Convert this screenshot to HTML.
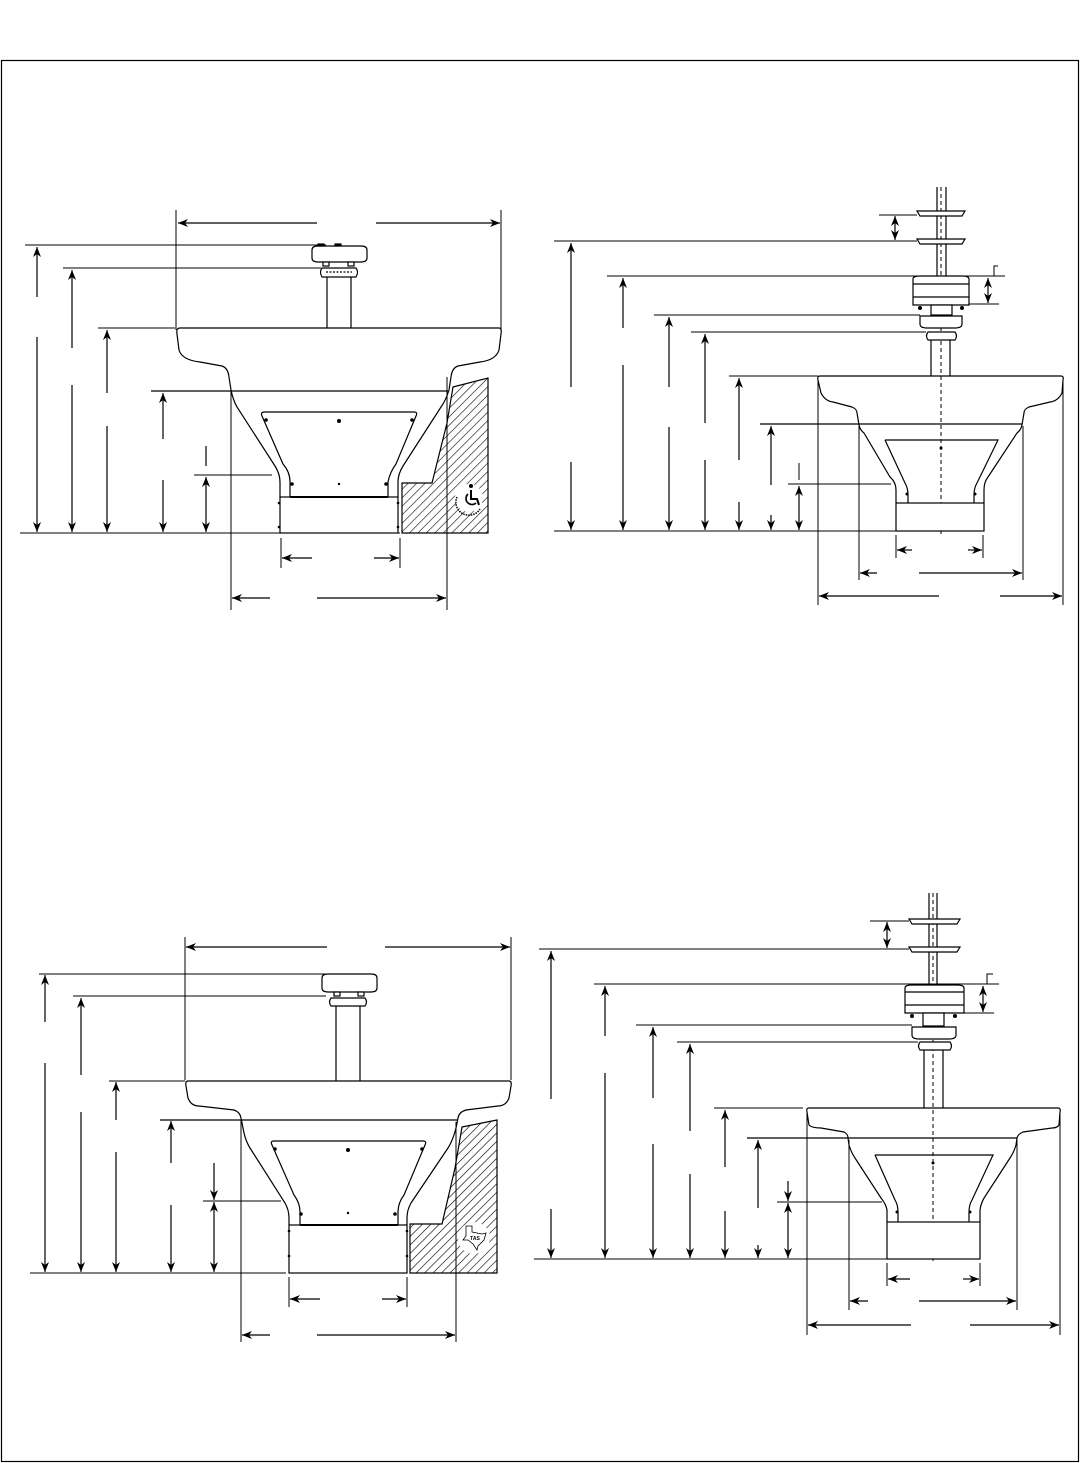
<!DOCTYPE html>
<html><head><meta charset="utf-8"><style>
html,body{margin:0;padding:0;background:#fff;}
svg{display:block;}
</style></head><body>
<svg width="1080" height="1463" viewBox="0 0 1080 1463" xmlns="http://www.w3.org/2000/svg">
<defs>
<marker id="a" markerUnits="userSpaceOnUse" markerWidth="10" markerHeight="8" viewBox="0 0 10 8" refX="10" refY="4" orient="auto">
<path d="M0,0 L10,4 L0,8 L3,4 z" fill="#000"/></marker>
<pattern id="h" patternUnits="userSpaceOnUse" width="6" height="6" patternTransform="rotate(45)">
<rect width="6" height="6" fill="#fff"/><line x1="0" y1="0" x2="0" y2="6" stroke="#000" stroke-width="1.2"/></pattern>
</defs>
<rect x="1.5" y="60.5" width="1077" height="1401" fill="none" stroke="#000" stroke-width="1.2"/>

<g fill="none" stroke="#000" stroke-width="1.2">
<!-- ============ TOP LEFT ============ -->
<!-- wall -->
<path d="M453,387 L488,378 L488,533 L402,533 L402,483 L432,483 L447,423 Z" fill="url(#h)" stroke="#000"/>
<circle cx="469" cy="498" r="14" fill="#fff" stroke="none"/>
<!-- dispenser -->
<path d="M312,250 Q312,246 318,246 L361,246 Q367,246 367,250 L367,258 Q367,262 361,262 L318,262 Q312,262 312,258 Z" fill="#fff"/>
<rect x="318" y="244" width="6" height="2" fill="#000"/><rect x="335" y="244" width="6" height="2" fill="#000"/>
<rect x="323" y="262" width="6" height="4" fill="#fff"/><rect x="348" y="262" width="6" height="4" fill="#fff"/>
<path d="M322,268 L356,268 Q359,272 356,277 L322,277 Q319,272 322,268 Z" fill="#fff"/>
<line x1="326" y1="272" x2="352" y2="272" stroke-dasharray="2,1.5"/>
<line x1="327" y1="277" x2="327" y2="328"/><line x1="351" y1="277" x2="351" y2="328"/>
<!-- basin -->
<path d="M180,328 L499,328 Q502,328 501,334 L499,350 Q496,360 480,362 L458,366 Q452,368 451,377 L449,390 Q446,400 441,407 L403,466 Q398,474 398,482 L398,497"/>
<path d="M180,328 Q176,328 177,334 L179,350 Q182,360 200,362 L222,366 Q228,368 229,377 L231,390 Q233,400 237,407 L275,466 Q280,474 280,482 L280,497"/>
<line x1="151" y1="391" x2="448" y2="391"/>
<path d="M265,412 L414,412 Q418,412 416,416 L396,464 Q390,472 388,482 L388,497"/>
<path d="M265,412 Q260,412 262,416 L283,464 Q290,472 290,482 L290,497"/>
<rect x="280" y="497" width="118" height="36" fill="#fff"/>
<line x1="290" y1="497" x2="388" y2="497" stroke-width="2"/>
<g fill="#000" stroke="none">
<circle cx="339" cy="421" r="2"/><circle cx="339" cy="484" r="1.2"/>
<circle cx="266" cy="420" r="1.8"/><circle cx="412" cy="420" r="1.8"/>
<circle cx="292" cy="484" r="1.8"/><circle cx="386" cy="484" r="1.8"/>
<circle cx="279" cy="503" r="1.3"/><circle cx="279" cy="527" r="1.3"/><circle cx="398" cy="503" r="1.3"/><circle cx="398" cy="527" r="1.3"/>
</g>
<!-- wheelchair -->
<g stroke="#000">
<circle cx="471" cy="486" r="2" fill="#000" stroke="none"/>
<path d="M471,490 L471,499 L477,499 L479,505" stroke-width="2"/>
<path d="M468,494 A6,6 0 1 0 476,503" stroke-width="1.6"/>
<path d="M457,497 A13,13 0 0 0 480,509" stroke-width="1.5" stroke-dasharray="1.5,1"/>
</g>
<!-- ext & leaders -->
<g stroke-width="1">
<line x1="176" y1="210" x2="176" y2="330"/><line x1="501" y1="210" x2="501" y2="330"/>
<line x1="25" y1="245" x2="326" y2="245"/>
<line x1="63" y1="268" x2="321" y2="268"/>
<line x1="98" y1="328" x2="175" y2="328"/>
<line x1="194" y1="475" x2="272" y2="475"/>
<line x1="20" y1="533" x2="400" y2="533"/>
<line x1="231" y1="391" x2="231" y2="610"/><line x1="447" y1="377" x2="447" y2="610"/>
<line x1="281" y1="538" x2="281" y2="568"/><line x1="400" y1="538" x2="400" y2="568"/>
</g>
<g marker-end="url(#a)">
<line x1="317" y1="223" x2="178" y2="223"/><line x1="376" y1="223" x2="500" y2="223"/>
<line x1="37" y1="297" x2="37" y2="247"/><line x1="37" y1="337" x2="37" y2="532"/>
<line x1="72" y1="348" x2="72" y2="270"/><line x1="72" y1="385" x2="72" y2="532"/>
<line x1="107" y1="393" x2="107" y2="330"/><line x1="107" y1="426" x2="107" y2="532"/>
<line x1="163" y1="439" x2="163" y2="393"/><line x1="163" y1="480" x2="163" y2="532"/>
<line x1="206" y1="505" x2="206" y2="477"/><line x1="206" y1="505" x2="206" y2="532"/>
<line x1="312" y1="558" x2="282" y2="558"/><line x1="374" y1="558" x2="399" y2="558"/>
<line x1="270" y1="598" x2="232" y2="598"/><line x1="317" y1="598" x2="446" y2="598"/>
</g>
<line x1="206" y1="446" x2="206" y2="466"/>

<!-- ============ TOP RIGHT ============ -->
<line x1="941" y1="187" x2="941" y2="535" stroke-dasharray="4,3" stroke-width="1"/>
<line x1="937" y1="187" x2="937" y2="277"/><line x1="946" y1="187" x2="946" y2="277"/>
<path d="M917,211 L965,211 L962,216 L920,216 Z" fill="#fff"/><path d="M917,239 L965,239 L962,244 L920,244 Z" fill="#fff"/>
<path d="M913,279 Q913,276 920,276 L962,276 Q969,276 969,279 L969,305 L913,305 Z" fill="#fff"/>
<line x1="913" y1="284" x2="969" y2="284"/><line x1="913" y1="297" x2="969" y2="297"/>
<g fill="#000" stroke="none"><circle cx="920" cy="308" r="2"/><circle cx="941" cy="308" r="2"/><circle cx="962" cy="308" r="2"/></g>
<rect x="931" y="305" width="21" height="10" fill="#fff"/>
<path d="M920,316 L962,316 L962,324 Q962,328 955,328 L927,328 Q920,328 920,324 Z" fill="#fff"/>
<path d="M928,332 L955,332 Q958,336 955,340 L928,340 Q925,336 928,332 Z" fill="#fff"/>
<line x1="931" y1="340" x2="931" y2="376"/><line x1="950" y1="340" x2="950" y2="376"/>
<path d="M820,376 L1061,376 Q1064,376 1063,380 L1062,393 Q1058,401 1050,402 L1029,407 Q1024,409 1024,413 L1022,425 Q1021,430 1017,433 L988,477 Q984,482 984,490 L984,503"/>
<path d="M820,376 Q817,376 818,380 L821,393 Q825,401 833,402 L852,407 Q857,409 857,413 L859,425 Q860,430 864,433 L890,477 Q896,482 896,490 L896,503"/>
<line x1="760" y1="424" x2="1022" y2="424"/>
<path d="M885,440 L998,440 L977,483 Q974,488 974,495 L974,503"/>
<path d="M885,440 L905,483 Q908,488 908,495 L908,503"/>
<rect x="896" y="503" width="88" height="28" fill="#fff"/>
<g fill="#000" stroke="none"><circle cx="941" cy="448" r="1.5"/><circle cx="907" cy="494" r="1.5"/><circle cx="975" cy="494" r="1.5"/></g>
<g stroke-width="1">
<line x1="879" y1="215" x2="917" y2="215"/>
<line x1="554" y1="241" x2="917" y2="241"/>
<line x1="607" y1="276" x2="1005" y2="276"/>
<polyline points="994,276 994,266 998,266"/>
<line x1="969" y1="304" x2="999" y2="304"/>
<line x1="654" y1="315" x2="920" y2="315"/>
<line x1="691" y1="332" x2="926" y2="332"/>
<line x1="729" y1="376" x2="818" y2="376"/>
<line x1="788" y1="484" x2="891" y2="484"/>
<line x1="554" y1="531" x2="896" y2="531"/>
<line x1="896" y1="535" x2="896" y2="558"/><line x1="983" y1="535" x2="983" y2="558"/>
<line x1="859" y1="426" x2="859" y2="580"/><line x1="1023" y1="426" x2="1023" y2="580"/>
<line x1="818" y1="380" x2="818" y2="605"/><line x1="1063" y1="380" x2="1063" y2="605"/>
<line x1="799" y1="463" x2="799" y2="480"/>
</g>
<g marker-end="url(#a)">
<line x1="895" y1="228" x2="895" y2="216"/><line x1="895" y1="228" x2="895" y2="240"/>
<line x1="988" y1="291" x2="988" y2="278"/><line x1="988" y1="291" x2="988" y2="303"/>
<line x1="571" y1="387" x2="571" y2="243"/><line x1="571" y1="462" x2="571" y2="530"/>
<line x1="623" y1="328" x2="623" y2="278"/><line x1="623" y1="365" x2="623" y2="530"/>
<line x1="669" y1="387" x2="669" y2="317"/><line x1="669" y1="427" x2="669" y2="530"/>
<line x1="705" y1="423" x2="705" y2="334"/><line x1="705" y1="460" x2="705" y2="530"/>
<line x1="739" y1="460" x2="739" y2="378"/><line x1="739" y1="502" x2="739" y2="530"/>
<line x1="771" y1="485" x2="771" y2="426"/><line x1="771" y1="515" x2="771" y2="530"/>
<line x1="799" y1="508" x2="799" y2="486"/><line x1="799" y1="508" x2="799" y2="530"/>
<line x1="912" y1="550" x2="897" y2="550"/><line x1="968" y1="550" x2="982" y2="550"/>
<line x1="877" y1="573" x2="860" y2="573"/><line x1="919" y1="573" x2="1022" y2="573"/>
<line x1="939" y1="596" x2="819" y2="596"/><line x1="1000" y1="596" x2="1062" y2="596"/>
</g>

<!-- ============ BOTTOM LEFT ============ -->
<path d="M462,1127 L497,1120 L497,1273 L410,1273 L410,1224 L442,1224 L455,1168 Z" fill="url(#h)" stroke="#000"/>
<circle cx="474" cy="1238" r="16" fill="#fff" stroke="none"/>
<path d="M466,1226 L472,1226 L472,1232 L482,1234 L486,1233 L484,1240 L478,1246 L477,1250 L473,1244 L468,1240 L463,1240 L466,1236 Z" stroke-width="0.8"/>
<text x="475" y="1240" font-family="Liberation Sans, sans-serif" font-size="5" font-weight="bold" text-anchor="middle" fill="#000" stroke="none">TAS</text>
<path d="M322,978 Q322,974 328,974 L371,974 Q377,974 377,978 L377,988 Q377,992 371,992 L328,992 Q322,992 322,988 Z" fill="#fff"/>
<rect x="334" y="992" width="6" height="4" fill="#fff"/><rect x="358" y="992" width="6" height="4" fill="#fff"/>
<path d="M331,998 L365,998 Q368,1002 365,1006 L331,1006 Q328,1002 331,998 Z" fill="#fff"/>
<line x1="336" y1="1006" x2="336" y2="1081"/><line x1="360" y1="1006" x2="360" y2="1081"/>
<path d="M188,1081 L509,1081 Q512,1081 511,1086 L509,1098 Q506,1106 498,1106 L466,1110 Q459,1112 458,1118 L456,1128 Q453,1140 448,1148 L411,1203 Q407,1210 407,1218 L407,1225"/>
<path d="M188,1081 Q185,1081 186,1086 L188,1098 Q191,1106 199,1106 L234,1110 Q240,1112 241,1118 L243,1128 Q245,1140 250,1148 L285,1203 Q289,1210 289,1218 L289,1225"/>
<line x1="160" y1="1120" x2="458" y2="1120"/>
<path d="M274,1141 L423,1141 Q427,1141 425,1145 L404,1195 Q398,1203 398,1212 L398,1225"/>
<path d="M274,1141 Q270,1141 272,1145 L294,1195 Q300,1203 300,1212 L300,1225"/>
<rect x="289" y="1225" width="118" height="48" fill="#fff"/>
<line x1="300" y1="1225" x2="398" y2="1225" stroke-width="2"/>
<g fill="#000" stroke="none">
<circle cx="348" cy="1150" r="2"/><circle cx="348" cy="1213" r="1.2"/>
<circle cx="275" cy="1149" r="1.8"/><circle cx="422" cy="1149" r="1.8"/>
<circle cx="301" cy="1214" r="1.8"/><circle cx="395" cy="1214" r="1.8"/>
<circle cx="289" cy="1231" r="1.3"/><circle cx="289" cy="1256" r="1.3"/><circle cx="407" cy="1231" r="1.3"/><circle cx="407" cy="1256" r="1.3"/>
</g>
<g stroke-width="1">
<line x1="185" y1="937" x2="185" y2="1080"/><line x1="511" y1="937" x2="511" y2="1080"/>
<line x1="39" y1="974" x2="335" y2="974"/>
<line x1="73" y1="996" x2="326" y2="996"/>
<line x1="109" y1="1081" x2="185" y2="1081"/>
<line x1="203" y1="1201" x2="281" y2="1201"/>
<line x1="30" y1="1273" x2="286" y2="1273"/>
<line x1="241" y1="1120" x2="241" y2="1342"/><line x1="456" y1="1122" x2="456" y2="1342"/>
<line x1="289" y1="1277" x2="289" y2="1307"/><line x1="407" y1="1277" x2="407" y2="1307"/>
</g>
<g marker-end="url(#a)">
<line x1="327" y1="947" x2="186" y2="947"/><line x1="385" y1="947" x2="510" y2="947"/>
<line x1="45" y1="1022" x2="45" y2="975"/><line x1="45" y1="1063" x2="45" y2="1272"/>
<line x1="81" y1="1075" x2="81" y2="998"/><line x1="81" y1="1112" x2="81" y2="1272"/>
<line x1="116" y1="1120" x2="116" y2="1082"/><line x1="116" y1="1152" x2="116" y2="1272"/>
<line x1="171" y1="1163" x2="171" y2="1121"/><line x1="171" y1="1205" x2="171" y2="1272"/>
<line x1="214" y1="1163" x2="214" y2="1200"/><line x1="214" y1="1240" x2="214" y2="1202"/><line x1="214" y1="1240" x2="214" y2="1272"/>
<line x1="320" y1="1299" x2="290" y2="1299"/><line x1="382" y1="1299" x2="406" y2="1299"/>
<line x1="270" y1="1335" x2="242" y2="1335"/><line x1="317" y1="1335" x2="455" y2="1335"/>
</g>

<!-- ============ BOTTOM RIGHT ============ -->
<line x1="933" y1="893" x2="933" y2="1262" stroke-dasharray="4,3" stroke-width="1"/>
<line x1="929" y1="893" x2="929" y2="985"/><line x1="937" y1="893" x2="937" y2="985"/>
<path d="M909,919 L960,919 L957,924 L912,924 Z" fill="#fff"/><path d="M909,947 L960,947 L957,952 L912,952 Z" fill="#fff"/>
<path d="M905,988 Q905,985 912,985 L957,985 Q964,985 964,988 L964,1013 L905,1013 Z" fill="#fff"/>
<line x1="905" y1="992" x2="964" y2="992"/><line x1="905" y1="1005" x2="964" y2="1005"/>
<g fill="#000" stroke="none"><circle cx="912" cy="1016" r="2"/><circle cx="933" cy="1016" r="2"/><circle cx="955" cy="1016" r="2"/></g>
<rect x="923" y="1013" width="21" height="13" fill="#fff"/>
<path d="M912,1027 L956,1027 L956,1035 Q956,1039 949,1039 L919,1039 Q912,1039 912,1035 Z" fill="#fff"/>
<path d="M920,1042 L950,1042 Q953,1046 950,1050 L920,1050 Q917,1046 920,1042 Z" fill="#fff"/>
<line x1="924" y1="1050" x2="924" y2="1108"/><line x1="943" y1="1050" x2="943" y2="1108"/>
<path d="M809,1108 L1058,1108 Q1061,1108 1060,1112 L1059,1125 Q1057,1128 1052,1128 L1023,1132 Q1018,1134 1017,1138 L1016,1145 Q1014,1152 1010,1158 L986,1195 Q981,1202 980,1210 L980,1222"/>
<path d="M809,1108 Q806,1108 807,1112 L809,1125 Q812,1128 821,1128 L844,1132 Q848,1134 848,1138 L849,1145 Q851,1152 855,1158 L881,1198 Q886,1204 887,1210 L887,1222"/>
<line x1="747" y1="1138" x2="1017" y2="1138"/>
<path d="M875,1155 L993,1155 L972,1200 Q969,1205 969,1212 L969,1222"/>
<path d="M875,1155 L895,1200 Q898,1205 898,1212 L898,1222"/>
<rect x="887" y="1222" width="93" height="37" fill="#fff"/>
<g fill="#000" stroke="none"><circle cx="933" cy="1163" r="1.5"/><circle cx="897" cy="1212" r="1.5"/><circle cx="970" cy="1212" r="1.5"/></g>
<g stroke-width="1">
<line x1="870" y1="921" x2="909" y2="921"/>
<line x1="539" y1="949" x2="909" y2="949"/>
<line x1="594" y1="984" x2="999" y2="984"/>
<polyline points="987,984 987,974 993,974"/>
<line x1="964" y1="1013" x2="994" y2="1013"/>
<line x1="636" y1="1025" x2="912" y2="1025"/>
<line x1="677" y1="1042" x2="918" y2="1042"/>
<line x1="714" y1="1108" x2="803" y2="1108"/>
<line x1="777" y1="1202" x2="882" y2="1202"/>
<line x1="534" y1="1259" x2="887" y2="1259"/>
<line x1="887" y1="1263" x2="887" y2="1286"/><line x1="980" y1="1263" x2="980" y2="1286"/>
<line x1="849" y1="1140" x2="849" y2="1310"/><line x1="1017" y1="1140" x2="1017" y2="1310"/>
<line x1="807" y1="1112" x2="807" y2="1335"/><line x1="1060" y1="1112" x2="1060" y2="1335"/>
</g>
<g marker-end="url(#a)">
<line x1="887" y1="935" x2="887" y2="922"/><line x1="887" y1="935" x2="887" y2="948"/>
<line x1="983" y1="999" x2="983" y2="986"/><line x1="983" y1="999" x2="983" y2="1012"/>
<line x1="551" y1="1099" x2="551" y2="951"/><line x1="551" y1="1209" x2="551" y2="1258"/>
<line x1="605" y1="1036" x2="605" y2="986"/><line x1="605" y1="1073" x2="605" y2="1258"/>
<line x1="653" y1="1098" x2="653" y2="1027"/><line x1="653" y1="1144" x2="653" y2="1258"/>
<line x1="690" y1="1131" x2="690" y2="1044"/><line x1="690" y1="1174" x2="690" y2="1258"/>
<line x1="725" y1="1167" x2="725" y2="1110"/><line x1="725" y1="1211" x2="725" y2="1258"/>
<line x1="758" y1="1208" x2="758" y2="1140"/><line x1="758" y1="1245" x2="758" y2="1258"/>
<line x1="788" y1="1181" x2="788" y2="1201"/><line x1="788" y1="1230" x2="788" y2="1203"/><line x1="788" y1="1230" x2="788" y2="1258"/>
<line x1="910" y1="1279" x2="888" y2="1279"/><line x1="963" y1="1279" x2="979" y2="1279"/>
<line x1="868" y1="1301" x2="850" y2="1301"/><line x1="919" y1="1301" x2="1016" y2="1301"/>
<line x1="911" y1="1325" x2="808" y2="1325"/><line x1="970" y1="1325" x2="1059" y2="1325"/>
</g>
</g>
</svg>
</body></html>
